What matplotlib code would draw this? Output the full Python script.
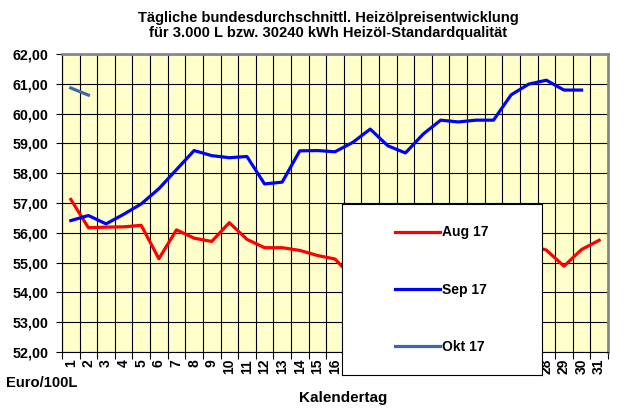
import matplotlib
matplotlib.use("Agg")
import matplotlib.pyplot as plt

plt.rcParams["font.family"] = "Liberation Sans"
plt.rcParams["font.weight"] = "bold"

days = list(range(1, 32))

aug_17 = [57.12, 56.17, 56.19, 56.20, 56.25, 55.13, 56.10, 55.82, 55.71, 56.34,
          55.78, 55.50, 55.50, 55.41, 55.24, 55.12, 54.50, 54.60, 54.75, 54.70,
          54.90, 55.00, 55.10, 55.20, 55.30, 55.50, 55.60, 55.42, 54.88, 55.44,
          55.75]
sep_17 = [56.41, 56.58, 56.30, 56.62, 56.97, 57.48, 58.12, 58.76, 58.59, 58.52,
          58.56, 57.64, 57.70, 58.75, 58.76, 58.72, 59.03, 59.48, 58.92, 58.68,
          59.31, 59.78, 59.72, 59.78, 59.78, 60.63, 60.99, 61.12, 60.79, 60.79]
okt_17 = [60.86, 60.62]

y_ticks = [52, 53, 54, 55, 56, 57, 58, 59, 60, 61, 62]

fig = plt.figure(figsize=(6.33, 4.11), dpi=100)
ax = fig.add_axes([62 / 633, 1 - 352 / 411, 546 / 633, 298 / 411])
ax.set_facecolor("#FFFFCC")

ax.plot(days[:len(aug_17)], aug_17, color="#FF0000", lw=2.3, label="Aug 17", zorder=3)
ax.plot(days[:len(sep_17)], sep_17, color="#0000FF", lw=2.3, label="Sep 17", zorder=3)
ax.plot(days[:len(okt_17)], okt_17, color="#4068A8", lw=2.3, label="Okt 17", zorder=3)

ax.set_xlim(0.5, 31.5)
ax.set_ylim(52, 62)

ax.set_xticks(days)
ax.set_xticklabels([str(d) for d in days], rotation=90, fontsize=10, fontweight="bold")
ax.set_xticks([d + 0.5 for d in range(0, 32)], minor=True)
ax.tick_params(axis="x", which="major", length=0, pad=5)
ax.tick_params(axis="x", which="minor", length=5, width=0.8, direction="out")
ax.grid(which="minor", axis="x", color="black", lw=0.8)

ax.set_yticks(y_ticks)
ax.set_yticklabels([f"{v:.2f}".replace(".", ",") for v in y_ticks], fontsize=10.3, fontweight="bold")
ax.tick_params(axis="y", length=4, width=0.8, direction="out", pad=6)
ax.grid(which="major", axis="y", color="black", lw=0.8)
ax.set_axisbelow(True)

for s in ["left", "bottom"]:
    ax.spines[s].set_color("black")
    ax.spines[s].set_linewidth(0.8)
for s in ["top", "right"]:
    ax.spines[s].set_color("#888888")
    ax.spines[s].set_linewidth(2)

fig.text(328 / 633, 1 - 18 / 411, "Tägliche bundesdurchschnittl. Heizölpreisentwicklung",
         ha="center", va="center", fontsize=10.6, fontweight="bold")
fig.text(328 / 633, 1 - 33 / 411, "für 3.000 L bzw. 30240 kWh Heizöl-Standardqualität",
         ha="center", va="center", fontsize=10.6, fontweight="bold")
fig.text(6 / 633, 1 - 383 / 411, "Euro/100L", ha="left", va="center", fontsize=10.6, fontweight="bold")
fig.text(343 / 633, 1 - 398 / 411, "Kalendertag", ha="center", va="center", fontsize=11, fontweight="bold")

# legend box sits over the plot and the hidden tick labels
lax = fig.add_axes([342 / 633, 1 - 375 / 411, 200 / 633, 171 / 411])
lax.set_xticks([])
lax.set_yticks([])
lax.set_facecolor("white")
for s in lax.spines.values():
    s.set_color("black")
    s.set_linewidth(0.8)
handles, labels = ax.get_legend_handles_labels()
lax.legend(handles, labels, loc="center", frameon=False, fontsize=10,
           handlelength=3.2, handletextpad=0.2, labelspacing=3.1)

fig.savefig("out.png", dpi=100)
